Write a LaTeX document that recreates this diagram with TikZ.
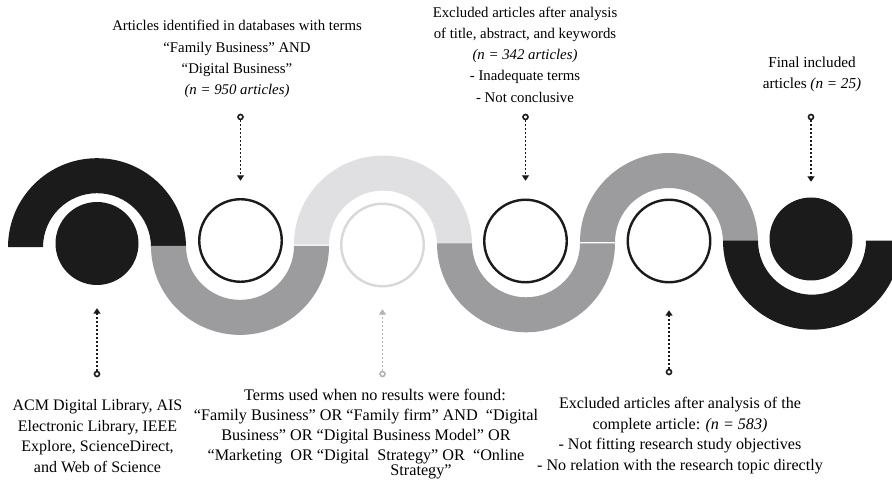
\documentclass[tikz,border=0pt]{standalone}
\usepackage{fontspec}
\setmainfont{Liberation Serif}
\usetikzlibrary{arrows.meta}

\definecolor{ink}{HTML}{1B1B1B}
\definecolor{midgray}{HTML}{9C9C9F}
\definecolor{pale}{HTML}{E0E0E2}
\definecolor{palering}{HTML}{D8D8D8}
\definecolor{palearrow}{HTML}{B3B3B3}

\tikzset{
  ring/.style={circle, draw=ink, line width=2.4pt, minimum size=82.5pt, inner sep=0pt},
  disc/.style={circle, fill=ink, minimum size=83pt, inner sep=0pt},
  tail/.style={circle, draw=ink, line width=1.6pt, minimum size=5pt, inner sep=0pt, fill=white},
  pointer/.style={draw=ink, line width=1.6pt, dash pattern=on 1.6pt off 2.4pt,
    -{Triangle[width=7pt,length=5.5pt]}},
  caption/.style={align=center, font=\fontsize{14.8}{21.2}\selectfont, inner sep=0pt}
}

\begin{document}
\begin{tikzpicture}[x=1pt,y=1pt]
\useasboundingbox (0,0) rectangle (892,482);
\fill[white] (0,0) rectangle (892,482);

% the winding band, made of alternating half rings
\begin{scope}
\clip (0,0) rectangle (892,482);
\fill[ink] (8,234.8) arc[start angle=180,end angle=0,radius=89pt]
  -- (151,234.8) arc[start angle=0,end angle=180,radius=54pt] -- cycle;
\fill[midgray] (151,236.1) arc[start angle=180,end angle=360,radius=89pt]
  -- (294,236.1) arc[start angle=360,end angle=180,radius=54pt] -- cycle;
\fill[pale] (294,237.4) arc[start angle=180,end angle=0,radius=89pt]
  -- (437,237.4) arc[start angle=0,end angle=180,radius=54pt] -- cycle;
\fill[midgray] (437,238.7) arc[start angle=180,end angle=360,radius=89pt]
  -- (580,238.7) arc[start angle=360,end angle=180,radius=54pt] -- cycle;
\fill[midgray] (580,240) arc[start angle=180,end angle=0,radius=89pt]
  -- (723,240) arc[start angle=0,end angle=180,radius=54pt] -- cycle;
\fill[ink] (723,241.3) arc[start angle=180,end angle=360,radius=89pt]
  -- (866,241.3) arc[start angle=360,end angle=180,radius=54pt] -- cycle;
\end{scope}

% stage markers
\node[disc] (c1) at (97,238.5) {};
\node[ring] (c2) at (240.5,241.5) {};
\node[ring, draw=palering] (c3) at (382.5,237) {};
\node[ring] (c4) at (525.5,241) {};
\node[ring] (c5) at (669,241) {};
\node[disc] (c6) at (811,243) {};

% pointer tails
\node[tail] (t2) at (240.5,365) {};
\node[tail] (t4) at (525.5,365) {};
\node[tail] (t6) at (811,365) {};
\node[tail] (t1) at (97,108) {};
\node[tail, draw=palearrow] (t3) at (382.5,108) {};
\node[tail] (t5) at (669,110) {};

% dotted pointers
\draw[pointer, shorten >=17.25pt] (t2) -- (c2);
\draw[pointer, shorten >=17.75pt] (t4) -- (c4);
\draw[pointer, shorten >=15.5pt] (t6) -- (c6);
\draw[pointer, shorten >=23pt] (t1) -- (c1);
\draw[pointer, draw=palearrow, shorten >=21.75pt] (t3) -- (c3);
\draw[pointer, shorten >=26.75pt] (t5) -- (c5);

% captions above
\node[caption] (l2) at (237,423) {Articles identified in databases with terms\\
  “Family Business” AND\\ “Digital Business”\\ \textit{(n = 950 articles)}};
\node[caption] (l4) at (525,427.5) {Excluded articles after analysis\\
  of title, abstract, and keywords\\ \textit{(n = 342 articles)}\\
  - Inadequate terms\\ - Not conclusive};
\node[caption, font=\fontsize{15.2}{21}\selectfont] (l6) at (812,407.5)
  {Final included\\ articles \textit{(n = 25)}};

% captions below
\node[caption, font=\fontsize{16}{20.7}\selectfont] (l1) at (97.5,46)
  {ACM Digital Library, AIS\\ Electronic Library, IEEE\\
   Explore, ScienceDirect,\\ and Web of Science};
\node[caption, font=\fontsize{16.2}{20}\selectfont] (l3) at (366,47.5)
  {\hspace*{18pt}Terms used when no results were found:\\
   “Family Business” OR “Family firm” AND\ \ “Digital\\
   Business” OR “Digital Business Model” OR\\
   “Marketing\ \ OR “Digital\ \ Strategy” OR\ \ “Online\\[-5pt]
   \hspace*{110pt}Strategy”};
\node[caption, font=\fontsize{16.1}{20.6}\selectfont] (l5) at (680,46.5)
  {Excluded articles after analysis of the\\
   complete article: \textit{(n = 583)}\\
   - Not fitting research study objectives\\
   - No relation with the research topic directly};
\end{tikzpicture}
\end{document}
